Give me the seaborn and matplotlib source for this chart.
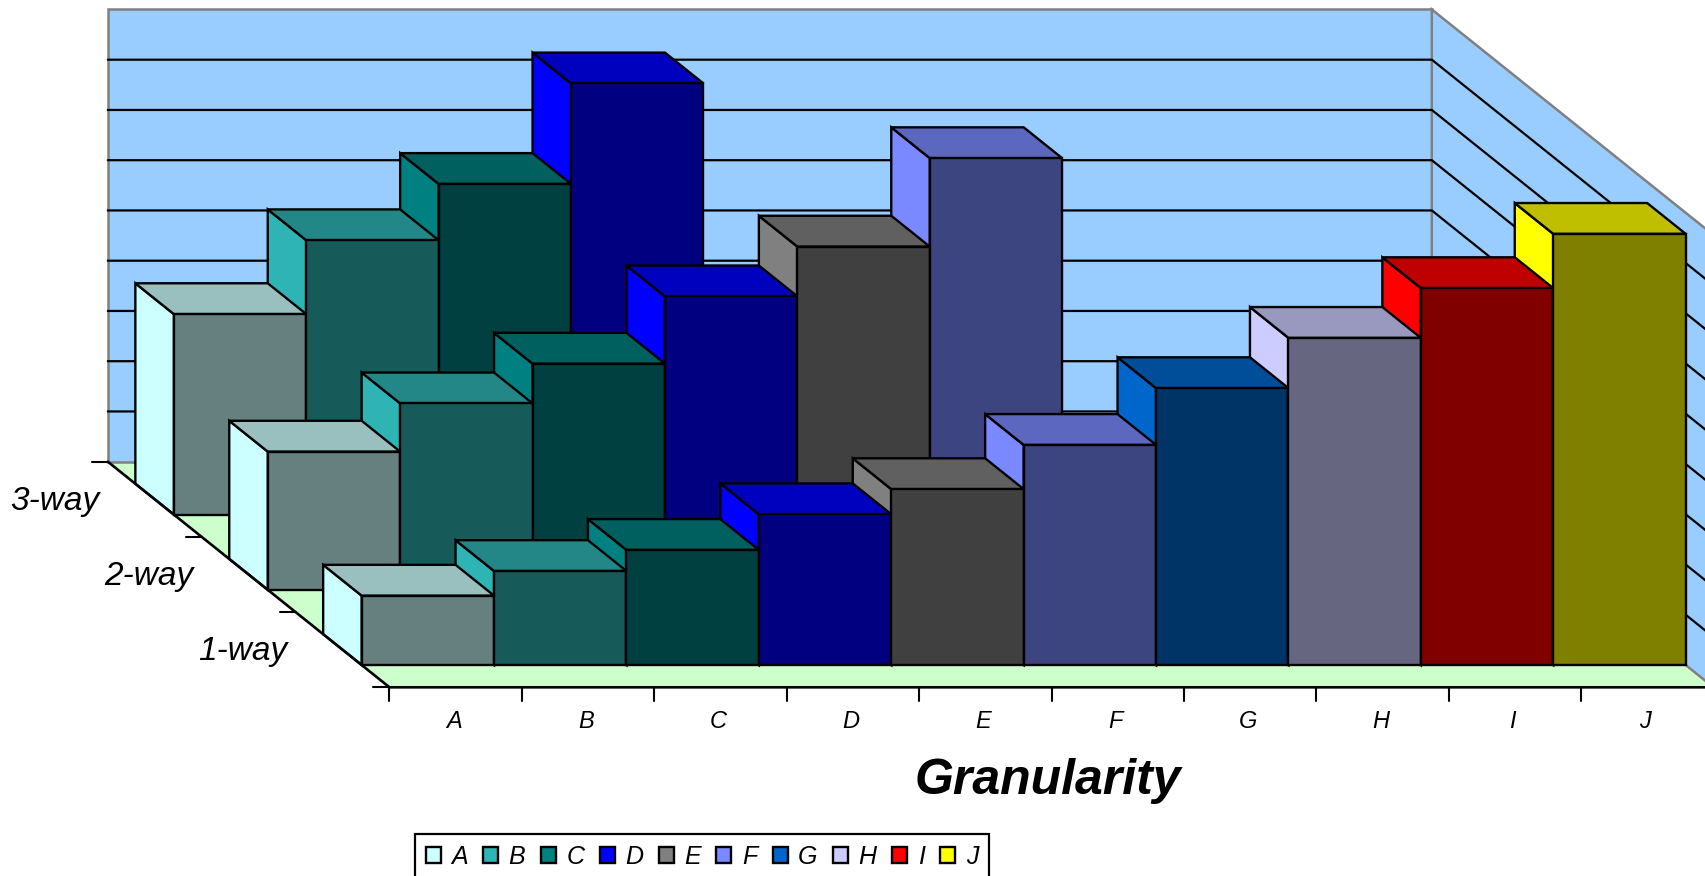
import matplotlib
matplotlib.use('Agg')
import matplotlib.pyplot as plt
from matplotlib.patches import Patch
from matplotlib.colors import to_rgb
import numpy as np
import seaborn as sns

# data: height of each bar, in gridline steps
categories = ['A', 'B', 'C', 'D', 'E', 'F', 'G', 'H', 'I', 'J']
rows = ['1-way', '2-way', '3-way']
one_way = [1.38, 1.87, 2.29, 3.00, 3.50, 4.38, 5.51, 6.51, 7.50, 8.58]
two_way = [2.75, 3.71, 4.50, 5.84, 6.83, 8.59]
three_way = [3.99, 5.46, 6.58, 8.58]
row_values = [one_way, two_way, three_way]
z_max = 9
side_colors = ['#CCFFFF', '#2EB4B4', '#008080', '#0000FF', '#808080',
               '#7A89FF', '#0066CC', '#CCCCFF', '#FF0000', '#FFFF00']

# oblique projection, pixels per unit
W, H = 1705, 876
ox, oy = 389.5, 687.3
step_x, step_z = 132.4, 50.25
kx = -93.9 / step_x
kz = 75.2 / step_z
bar_gap, bar_depth = 0.2965, 0.41
lw = 1.7


def proj(x, d, z):
    return x + d * kx, z + d * kz


def shade(color, f):
    return tuple(np.array(to_rgb(color)) * f)


sns.set_theme(style='white')
plt.rcParams['font.family'] = ['Liberation Sans', 'DejaVu Sans']

fig = plt.figure(figsize=(W / 100, H / 100), dpi=100)
ax = fig.add_axes([0, 0, 1, 1])
ax.set_facecolor('white')

n = len(categories)
depth = len(rows)

# walls and floor
wall = '#99CCFF'
edge = '#808080'
back = [proj(0, depth, 0), proj(0, depth, z_max), proj(n, depth, z_max), proj(n, depth, 0)]
right = [proj(n, depth, 0), proj(n, depth, z_max), proj(n, 0, z_max), proj(n, 0, 0)]
floor = [proj(0, depth, 0), proj(n, depth, 0), proj(n, 0, 0), proj(0, 0, 0)]
ax.fill(*zip(*floor), color='#CCFFCC', lw=0, zorder=1)
ax.fill(*zip(*back), facecolor=wall, edgecolor=edge, lw=1.8, zorder=2)
ax.fill(*zip(*right), facecolor=wall, edgecolor=edge, lw=1.8, zorder=2)
for z in range(1, z_max):
    xs, ys = zip(proj(0, depth, z), proj(n, depth, z), proj(n, 0, z))
    ax.plot(xs, ys, color='black', lw=1.6, zorder=3, solid_joinstyle='miter')

# bars, back row first
for r in reversed(range(depth)):
    values = row_values[r]
    cats = categories[:len(values)]
    d0 = r + bar_gap
    d1 = d0 + bar_depth
    zo = 10 * (depth - r)
    for i, v in enumerate(values):
        c = side_colors[i]
        side = [proj(i, d0, 0), proj(i, d0, v), proj(i, d1, v), proj(i, d1, 0)]
        top = [proj(i, d0, v), proj(i, d1, v), proj(i + 1, d1, v), proj(i + 1, d0, v)]
        ax.fill(*zip(*side), facecolor=c, edgecolor='black', lw=lw, zorder=zo, joinstyle='miter')
        ax.fill(*zip(*top), facecolor=shade(c, 0.75), edgecolor='black', lw=lw, zorder=zo + 1, joinstyle='miter')
    # front faces
    centers = [proj(i + 0.5, d0, 0)[0] for i in range(len(values))]
    sns.barplot(x=centers, y=values, hue=cats, native_scale=True, dodge=False, width=1, errorbar=None,
                palette={c: shade(side_colors[i], 0.5) for i, c in enumerate(cats)},
                bottom=proj(0, d0, 0)[1], edgecolor='black', linewidth=lw, saturation=1,
                legend=False, zorder=zo + 1, ax=ax)

# axis lines and ticks
axis_zo = 60
xs, ys = zip(proj(0, depth, 0), proj(0, 0, 0), proj(n, 0, 0))
ax.plot(xs, ys, color='black', lw=1.9, zorder=axis_zo, solid_joinstyle='miter')
tick_x = 14 / step_z
tick_d = 16 / step_x
for i in range(n + 1):
    x0, y0 = proj(i, 0, 0)
    ax.plot([x0, x0], [y0, y0 - tick_x], color='black', lw=1.5, zorder=axis_zo)
for r in range(depth + 1):
    x0, y0 = proj(0, r, 0)
    ax.plot([x0 - tick_d, x0], [y0, y0], color='black', lw=1.5, zorder=axis_zo)

# tick labels
for i, c in enumerate(categories):
    x0, y0 = proj(i + 0.5, 0, 0)
    ax.annotate(c, xy=(x0, y0), xytext=(-1.5, -24.5), textcoords='offset points', ha='center', va='center',
                fontsize=17, style='italic', color='black')
for r, label in enumerate(rows):
    x0, y0 = proj(0, r + 0.5, 0)
    ax.annotate(label, xy=(x0, y0), xytext=(-39.5, -1.5), textcoords='offset points', ha='right', va='center',
                fontsize=24, style='italic', color='black')

fig.text(1048 / W, 1 - 781 / H, 'Granularity', ha='center', va='center', fontsize=36,
         fontweight='bold', style='italic', color='black')

# legend runs off the bottom of the picture
handles = [Patch(facecolor=side_colors[i], edgecolor='black', lw=1.7, label=c) for i, c in enumerate(categories)]
leg = ax.legend(handles=handles, ncol=n, loc='upper left', bbox_to_anchor=(415 / W, 1 - 834.3 / H),
                bbox_transform=fig.transFigure, borderaxespad=0, labelcolor='black',
                prop={'style': 'italic', 'size': 18}, handlelength=0.6, handleheight=0.58,
                handletextpad=0.42, columnspacing=0.62, borderpad=0.42, fancybox=False, framealpha=1,
                edgecolor='black')
leg.get_frame().set_linewidth(1.6)
leg.set_zorder(100)

ax.set_xlim(-ox / step_x, (W - ox) / step_x)
ax.set_ylim((oy - H) / step_z, oy / step_z)
ax.set_axis_off()

fig.savefig('out.png', dpi=100)
